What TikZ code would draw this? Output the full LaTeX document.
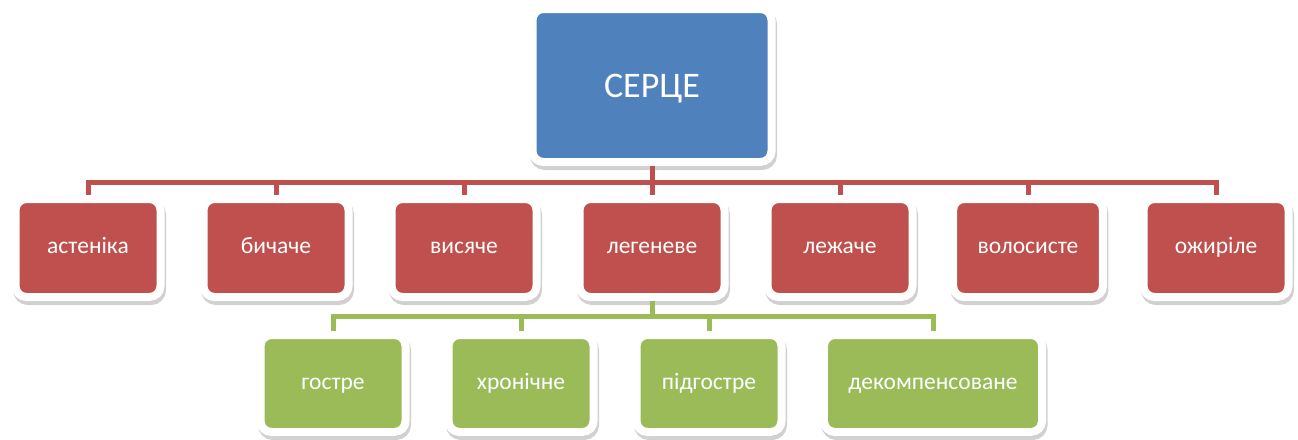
\documentclass[tikz,border=0pt]{standalone}
\usepackage{fontspec}
\setmainfont{Carlito}
\usetikzlibrary{shadows}
\definecolor{heartblue}{HTML}{4F81BD}
\definecolor{heartred}{HTML}{C0504D}
\definecolor{heartgreen}{HTML}{9BBB59}
\begin{document}
\begin{tikzpicture}[
	x=1pt, y=1pt,
	box/.style = {draw=white, line width=8pt, rounded corners=11pt, text=white,
		text height=15pt, text depth=4pt,
		drop shadow={shadow xshift=1.5pt, shadow yshift=-4pt, opacity=0.3,
			fill=black!60, draw=black!60, line width=8pt}},
	rootbox/.style = {box, fill=heartblue, minimum width=239pt, minimum height=153pt,
		text height=25pt, text depth=2pt, font=\fontsize{36}{42}\selectfont},
	redbox/.style = {box, fill=heartred, minimum width=145pt, minimum height=98pt, inner xsep=24.5pt},
	greenbox/.style = {box, fill=heartgreen, minimum width=145pt, minimum height=97pt, inner xsep=24.5pt},
	level 1/.style = {level distance=162.5pt, sibling distance=188pt,
		edge from parent/.style={draw=heartred, line width=5pt},
		edge from parent path = {(\tikzparentnode.south) -- ++(0,-16pt) -| (\tikzchildnode.north)}},
	level 2/.style = {level distance=135.5pt, sibling distance=188pt,
		edge from parent/.style={draw=heartgreen, line width=5pt},
		edge from parent path = {(\tikzparentnode.south) -- ++(0,-15pt) -| (\tikzchildnode.north)}},
	every node/.append style = {font=\fontsize{23.5}{28}\selectfont}
]
\useasboundingbox (0,0) rectangle (1298,-439);

\node[rootbox] (root) at (652,-85.5) {СЕРЦЕ}
	child {node[redbox] {астеніка}}
	child {node[redbox] {бичаче}}
	child {node[redbox] {висяче}}
	child {node[redbox] {легеневе}
		child[xshift=-37pt] {node[greenbox] {гостре}}
		child[xshift=-37pt] {node[greenbox] {хронічне}}
		child[xshift=-37pt] {node[greenbox] {підгостре}}
		child[xshift=-1pt] {node[greenbox] {декомпенсоване}}
	}
	child {node[redbox] {лежаче}}
	child {node[redbox] {волосисте}}
	child {node[redbox] {ожиріле}};

\end{tikzpicture}
\end{document}
